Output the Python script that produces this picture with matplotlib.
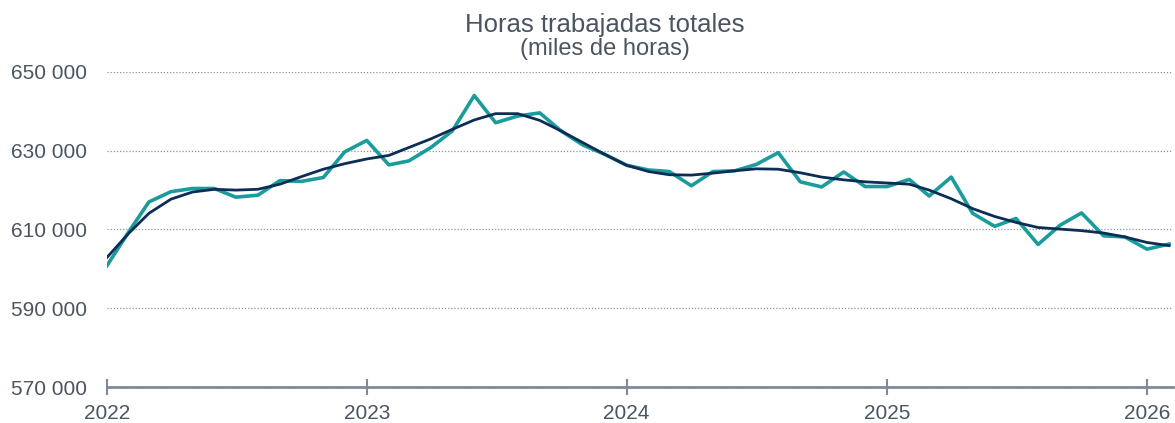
import numpy as np
import pandas as pd
import matplotlib
matplotlib.use("Agg")
import matplotlib.pyplot as plt
import matplotlib.dates as mdates
from matplotlib.ticker import FuncFormatter

plt.rcParams['font.family'] = ['Liberation Sans', 'DejaVu Sans']

# monthly data, Jan 2022 - Feb 2026 (thousands of hours)
months = pd.date_range("2022-01-01", periods=50, freq="MS")
horas = [600.8, 609.5, 617.0, 619.6, 620.4, 620.4, 618.2, 618.7, 622.4, 622.2,
         623.2, 629.7, 632.6, 626.4, 627.4, 630.8, 635.0, 644.0, 637.1, 638.8,
         639.6, 635.0, 631.4, 629.1, 626.3, 625.1, 624.7, 621.1, 624.7, 624.9,
         626.5, 629.5, 622.1, 620.8, 624.6, 620.9, 620.9, 622.7, 618.5, 623.3,
         614.1, 610.8, 612.8, 606.2, 611.1, 614.2, 608.4, 608.1, 605.0, 606.3]
tendencia = [602.9, 609.1, 614.1, 617.7, 619.5, 620.2, 620.0, 620.2, 621.5, 623.4,
             625.3, 626.7, 627.9, 628.8, 630.8, 633.0, 635.4, 637.8, 639.4, 639.4,
             637.7, 635.0, 632.0, 629.1, 626.3, 624.7, 623.9, 623.8, 624.3, 624.9,
             625.4, 625.3, 624.4, 623.3, 622.6, 622.1, 621.8, 621.5, 620.0, 617.8,
             615.3, 613.3, 611.8, 610.5, 610.1, 609.7, 609.1, 608.1, 606.7, 605.9]
yticks = [570000, 590000, 610000, 630000, 650000]

text_col = "#4a5561"
axis_col = "#7d8b97"

fig = plt.figure(figsize=(11.75, 4.23), dpi=100)
ax = fig.add_axes([0.091, 0.085, 0.907, 0.745])

ax.plot(months, np.array(horas) * 1000, color="#1a9c9c", lw=2.6, zorder=3)
ax.plot(months, np.array(tendencia) * 1000, color="#0c2d55", lw=2.0, zorder=4)

ax.set_ylim(570000, 650000)
ax.set_xlim(pd.Timestamp("2022-01-01"), pd.Timestamp("2026-02-06"))
ax.set_yticks(yticks)
ax.yaxis.set_major_formatter(FuncFormatter(lambda v, p: f"{int(v):,}".replace(",", " ")))
ax.xaxis.set_major_locator(mdates.YearLocator())
ax.xaxis.set_major_formatter(mdates.DateFormatter("%Y"))

ax.grid(axis="y", color="#8a96a3", ls=(0, (1, 1.5)), lw=0.9)
for s in ["top", "right", "left"]:
    ax.spines[s].set_visible(False)
ax.spines["bottom"].set_color(axis_col)
ax.spines["bottom"].set_linewidth(2)
ax.tick_params(axis="y", length=0, pad=14.5, labelsize=15, labelcolor=text_col)
ax.tick_params(axis="x", direction="inout", length=12, width=1.5, color=axis_col,
               labelsize=15, labelcolor=text_col, pad=6.5)

fig.text(0.515, 0.925, "Horas trabajadas totales", ha="center", fontsize=18.5, color=text_col)
fig.text(0.515, 0.87, "(miles de horas)", ha="center", fontsize=17, color=text_col)

fig.savefig("out.png", dpi=100)
